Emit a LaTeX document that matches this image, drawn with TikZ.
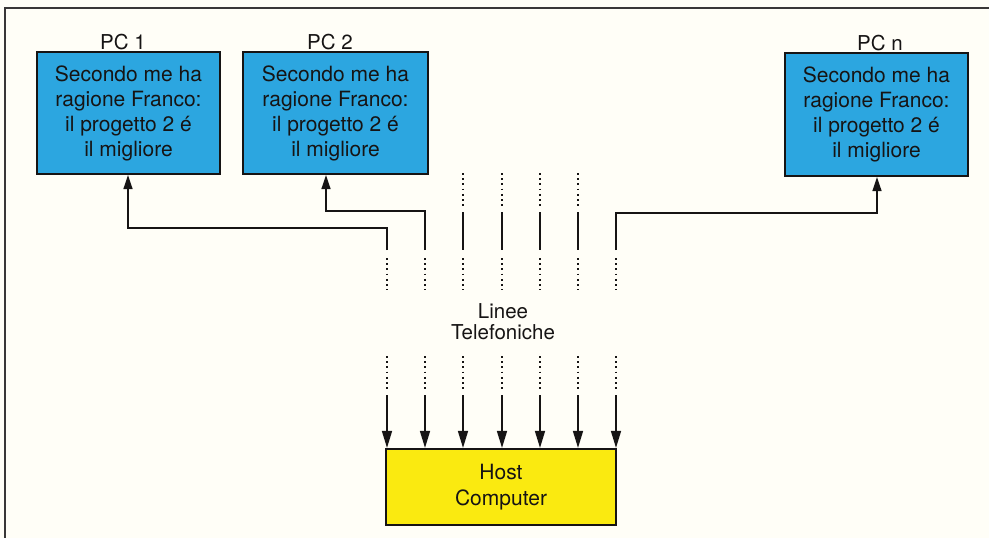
\documentclass[tikz,border=0pt]{standalone}
\usepackage{fontspec}
\setmainfont{TeX Gyre Heros}
\usetikzlibrary{arrows.meta}
\definecolor{pcblue}{RGB}{44,166,224}
\definecolor{hostyellow}{RGB}{250,234,16}
\definecolor{paper}{RGB}{255,254,247}
\definecolor{ink}{RGB}{22,20,20}
\tikzset{
  pcbox/.style={draw=ink,line width=2.2pt,fill=pcblue,minimum width=183pt,minimum height=122pt,
    align=center,inner sep=0pt,font=\fontsize{21}{25}\selectfont,text=ink},
  hostbox/.style={draw=ink,line width=2.2pt,fill=hostyellow,minimum width=230pt,minimum height=76pt,
    align=center,inner sep=0pt,font=\fontsize{21}{26}\selectfont,text=ink},
  lbl/.style={font=\fontsize{20.5}{21}\selectfont,text=ink,inner sep=0pt,align=center},
  wire/.style={draw=ink,line width=1.5pt},
  arr/.style={wire,-{Triangle[length=14pt,width=9pt]}},
  darr/.style={wire,-{Triangle[length=17pt,width=10pt]}},
  dots/.style={draw=ink,line width=2pt,dash pattern=on 1.8pt off 3.4pt},
  frame/.style={draw=ink!85,line width=2pt}
}
\begin{document}
\begin{tikzpicture}[x=1pt,y=-1pt]
\fill[paper] (0,0) rectangle (989,538);
\useasboundingbox (0,0) rectangle (989,538);
\draw[frame] (5,538) -- (5,8) -- (989,8);

% PC boxes
\node[pcbox] (pc1) at (128.5,113) {Secondo me ha\\ragione Franco:\\il progetto 2 é\\il migliore};
\node[pcbox,minimum width=185pt] (pc2) at (335.5,113) {Secondo me ha\\ragione Franco:\\il progetto 2 é\\il migliore};
\node[pcbox,minimum height=123pt] (pcn) at (876.5,114.5) {Secondo me ha\\ragione Franco:\\il progetto 2 é\\il migliore};
\node[lbl] (lab1) at (123,42) {PC 1};
\node[lbl] (lab2) at (330,42) {PC 2};
\node[lbl] (labn) at (880,43) {PC n};

% Host
\node[hostbox] (host) at (501,487) {Host\\Computer};

% Label
\node[lbl] (lin) at (503,322) {Linee\\Telefoniche};

% line coordinates
\foreach \i/\x in {1/387,2/425,3/463,4/502,5/540,6/578,7/616}{
  \coordinate (us\i) at (\x,250);
  \coordinate (dt\i) at (\x,258);
  \coordinate (db\i) at (\x,290);
  \coordinate (lt\i) at (\x,356);
  \coordinate (lb\i) at (\x,391);
  \coordinate (ls\i) at (\x,395);
  \draw[dots] (dt\i) -- (db\i);
  \draw[dots] (lt\i) -- (lb\i);
  \draw[darr] (ls\i) -- (ls\i |- host.north);
}
\foreach \i/\x in {3/463,4/502,5/540,6/578}{
  \coordinate (ut\i) at (\x,173);
  \coordinate (ub\i) at (\x,206);
  \coordinate (um\i) at (\x,212);
  \draw[dots] (ut\i) -- (ub\i);
  \draw[wire] (um\i) -- (us\i);
}
% connections to PCs
\coordinate (k1) at (128,228);
\coordinate (k2) at (326,211);
\coordinate (kn) at (877,213);
\draw[arr] (us1) |- (k1) -- (k1 |- pc1.south);
\draw[arr] (us2) |- (k2) -- (k2 |- pc2.south);
\draw[arr] (us7) |- (kn) -- (kn |- pcn.south);
\end{tikzpicture}
\end{document}
